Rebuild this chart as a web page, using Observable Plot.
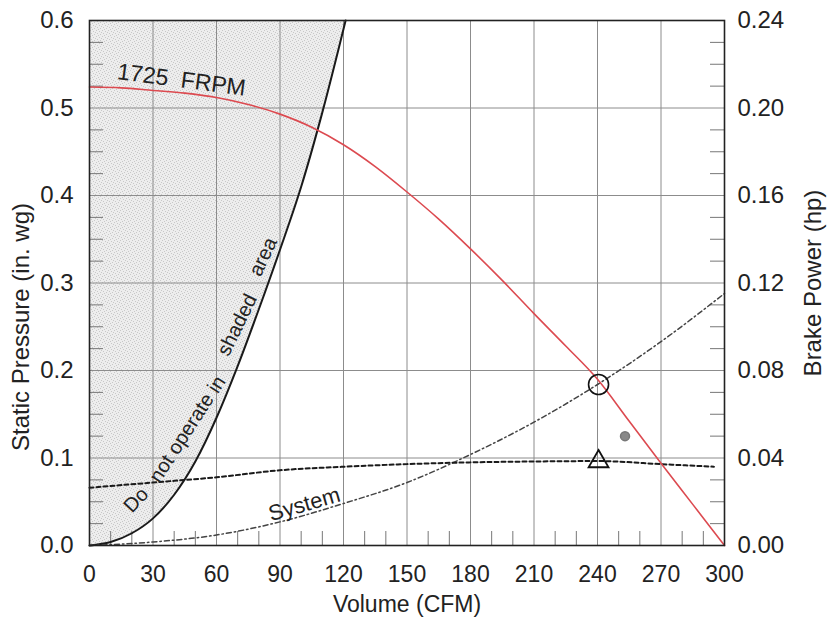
<!DOCTYPE html>
<html><head><meta charset="utf-8">
<script src="https://cdn.jsdelivr.net/npm/d3@7"></script>
<script src="https://cdn.jsdelivr.net/npm/@observablehq/plot@0.6"></script>
<style>
body{margin:0;background:#fff;}
#chart{width:834px;height:622px;overflow:hidden;}
</style></head><body><div id="chart"></div>
<script>
// Fan curve at 1725 RPM: static pressure (in. wg) vs volume (CFM)
const fanCFM = [0,15,30,45,60,75,90,105,120,135,150,165,180,195,210,225,240,255,270,285,300];
const fanSP  = [0.524,0.523,0.520,0.517,0.512,0.504,0.493,0.478,0.458,0.433,0.404,0.373,0.339,0.303,0.265,0.228,0.190,0.142,0.094,0.047,0.0];
// Boundary of the "do not operate" region
const boundaryCFM = [0,10,20,30,40,50,60,70,80,90,100,110,121];
const boundarySP  = [0,0.004,0.014,0.031,0.058,0.096,0.146,0.205,0.270,0.338,0.410,0.495,0.600];
// System curve
const systemCFM = [0,30,60,90,120,150,180,210,240,270,300];
const systemSP  = [0,0.004,0.012,0.027,0.048,0.072,0.104,0.141,0.184,0.233,0.288];
// Brake power (hp), right axis
const brakeCFM = [0,30,60,90,120,150,180,210,240,270,295];
const brakeHP  = [0.0264,0.0288,0.0312,0.0344,0.0360,0.0372,0.0380,0.0384,0.0386,0.0372,0.0360];
// Operating point markers
const opCircle = [{cfm:240.5, sp:0.184}];
const opTriangle = [{cfm:240.5, hp:0.0384}];
const opDot = [{cfm:253, sp:0.125}];
// Ticks / labels
const xTicks = [0,30,60,90,120,150,180,210,240,270,300];
const xGrid = [30,60,90,120,150,180,210,240,270];
const xMinor = [10,20,40,50,70,80,100,110,130,140,160,170,190,200,220,230,250,260,280,290];
const yTicks = [0,0.1,0.2,0.3,0.4,0.5,0.6];
const yLabels = ["0.0","0.1","0.2","0.3","0.4","0.5","0.6"];
const yGrid = [0.1,0.2,0.3,0.4,0.5];
const yMinor = [0.025,0.05,0.075,0.125,0.15,0.175,0.225,0.25,0.275,0.325,0.35,0.375,0.425,0.45,0.475,0.525,0.55,0.575];
const bpLabels = ["0.00","0.04","0.08","0.12","0.16","0.20","0.24"];
const hpToSP = 0.6/0.24;
const yTitle = "Static Pressure (in. wg)";
// Annotations
const notes = [
  {cfm:43.5, sp:0.532, text:"1725\u00a0\u00a0FRPM", rotate:7.5, size:23},
  {cfm:101.5, sp:0.047, text:"System", rotate:-16, size:22},
  {cfm:22, sp:0.052, text:"Do", rotate:-47, size:20},
  {cfm:46.3, sp:0.133, text:"not operate in", rotate:-57, size:20},
  {cfm:69.8, sp:0.252, text:"shaded", rotate:-64, size:20},
  {cfm:82, sp:0.330, text:"area", rotate:-65, size:20}
];

const fan = fanCFM.map((x,i)=>({x, y:fanSP[i]}));
const boundary = boundaryCFM.map((x,i)=>({x, y:boundarySP[i]}));
const system = systemCFM.map((x,i)=>({x, y:systemSP[i]}));
const brake = brakeCFM.map((x,i)=>({x, y:brakeHP[i]*hpToSP}));

const W = 834, H = 622, mT = 20, mB = 77, mL = 89, mR = 110;
const plotW = W - mL - mR, plotH = H - mT - mB;
const font = "'Liberation Sans', Arial, Helvetica, sans-serif";

const chart = Plot.plot({
  width: W, height: H,
  marginTop: mT, marginBottom: mB, marginLeft: mL, marginRight: mR,
  x: {domain: [0, 300]},
  y: {domain: [0, 0.6]},
  style: {fontFamily: font, fontSize: "24px", color: "#222", background: "#fff", overflow: "visible"},
  marks: [
    Plot.areaY(boundary, {x: "x", y1: "y", y2: 0.6, fill: "url(#stipple)", curve: "monotone-x"}),
    Plot.ruleX(xGrid, {stroke: "#8c8c8c", strokeWidth: 1}),
    Plot.ruleY(yGrid, {stroke: "#8c8c8c", strokeWidth: 1}),
    Plot.ruleX(xMinor, {stroke: "#777", strokeWidth: 1, insetTop: plotH - 14}),
    Plot.ruleY(yMinor, {stroke: "#777", strokeWidth: 1, insetRight: plotW - 14}),
    Plot.ruleY(yMinor, {stroke: "#777", strokeWidth: 1, insetLeft: plotW - 14}),
    Plot.line(boundary, {x: "x", y: "y", stroke: "#1a1a1a", strokeWidth: 2, curve: "monotone-x"}),
    Plot.line(system, {x: "x", y: "y", stroke: "#444", strokeWidth: 1.5, strokeDasharray: "5,3,1.5,3", curve: "monotone-x"}),
    Plot.line(brake, {x: "x", y: "y", stroke: "#1a1a1a", strokeWidth: 2, strokeDasharray: "4,3", curve: "monotone-x"}),
    Plot.line(fan, {x: "x", y: "y", stroke: "#dc4a50", strokeWidth: 1.6, curve: "monotone-x"}),
    Plot.dot(opCircle, {x: "cfm", y: "sp", r: 10, stroke: "#111", strokeWidth: 1.6, fill: "none"}),
    Plot.dot(opTriangle, {x: "cfm", y: d => d.hp * hpToSP, symbol: "triangle", r: 7.4, stroke: "#111", strokeWidth: 1.8, fill: "none"}),
    Plot.dot(opDot, {x: "cfm", y: "sp", r: 4.5, fill: "#888", stroke: "#777"}),
    Plot.text(notes, {x: "cfm", y: "sp", text: "text", rotate: "rotate", fontSize: d => d.size, fill: "#222"}),
    Plot.frame({stroke: "#222", strokeWidth: 1.6}),
    Plot.axisX({ticks: xTicks, tickSize: 0, tickPadding: 20, tickFormat: d => String(d), fontSize: 24,
      label: "Volume (CFM)", labelAnchor: "center", labelOffset: 66, labelArrow: false, fontSize: 23}),
    Plot.axisY({ticks: yTicks, tickSize: 0, tickPadding: 16, tickFormat: d => yLabels[yTicks.indexOf(d)], fontSize: 24, label: null}),
    Plot.text([yTitle], {frameAnchor: "left", textAnchor: "middle", dx: -68, dy: 44, rotate: -90, fontSize: 24, fill: "#222"}),
    Plot.axisY({anchor: "right", ticks: yTicks, tickSize: 0, tickPadding: 13, tickFormat: d => bpLabels[yTicks.indexOf(d)], fontSize: 24,
      label: "Brake Power (hp)", labelAnchor: "center", labelOffset: 96, labelArrow: false})
  ]
});

// stipple texture for the shaded region
const ns = "http://www.w3.org/2000/svg";
const defs = document.createElementNS(ns, "defs");
const pat = document.createElementNS(ns, "pattern");
pat.setAttribute("id", "stipple");
pat.setAttribute("patternUnits", "userSpaceOnUse");
pat.setAttribute("width", "6");
pat.setAttribute("height", "6");
const bg = document.createElementNS(ns, "rect");
bg.setAttribute("width", "6"); bg.setAttribute("height", "6"); bg.setAttribute("fill", "#ededed");
pat.appendChild(bg);
[[0,0],[3,1],[1,3],[4,4],[2,5],[5,2]].forEach(([px,py]) => {
  const r = document.createElementNS(ns, "rect");
  r.setAttribute("x", px); r.setAttribute("y", py);
  r.setAttribute("width", "1"); r.setAttribute("height", "1");
  r.setAttribute("fill", "#c8c8c8");
  pat.appendChild(r);
});
defs.appendChild(pat);
chart.insertBefore(defs, chart.firstChild);
document.getElementById("chart").appendChild(chart);
</script>
</body></html>
